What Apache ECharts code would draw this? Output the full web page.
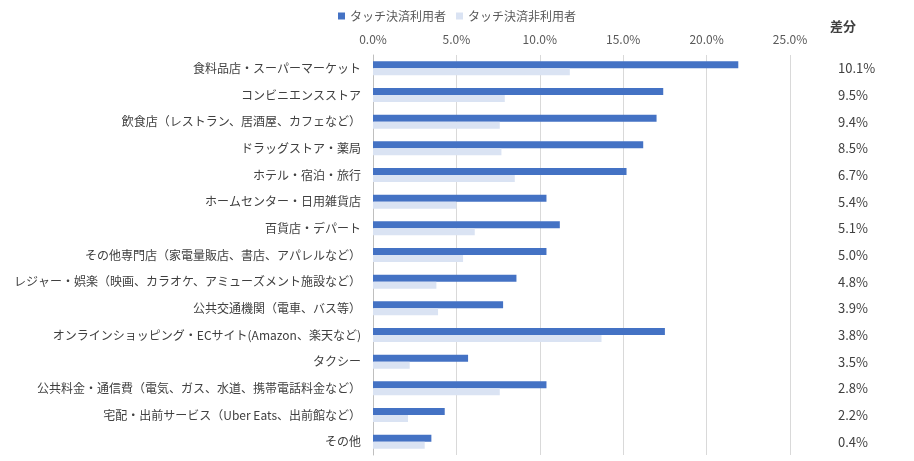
<!DOCTYPE html>
<html><head><meta charset="utf-8">
<script src="https://cdn.jsdelivr.net/npm/echarts@6/dist/echarts.min.js"></script>
<style>html,body{margin:0;padding:0;background:#fff}#c{width:914px;height:461px}</style>
</head><body><div id="c"></div>
<script>
const categories = ["食料品店・スーパーマーケット","コンビニエンスストア","飲食店（レストラン、居酒屋、カフェなど）","ドラッグストア・薬局","ホテル・宿泊・旅行","ホームセンター・日用雑貨店","百貨店・デパート","その他専門店（家電量販店、書店、アパレルなど）","レジャー・娯楽（映画、カラオケ、アミューズメント施設など）","公共交通機関（電車、バス等）","オンラインショッピング・ECサイト(Amazon、楽天など)","タクシー","公共料金・通信費（電気、ガス、水道、携帯電話料金など）","宅配・出前サービス（Uber Eats、出前館など）","その他"];
const users = [21.9,17.4,17.0,16.2,15.2,10.4,11.2,10.4,8.6,7.8,17.5,5.7,10.4,4.3,3.5];
const nonUsers = [11.8,7.9,7.6,7.7,8.5,5.0,6.1,5.4,3.8,3.9,13.7,2.2,7.6,2.1,3.1];
const diffs = ["10.1%","9.5%","9.4%","8.5%","6.7%","5.4%","5.1%","5.0%","4.8%","3.9%","3.8%","3.5%","2.8%","2.2%","0.4%"];
const font = "'Noto Sans CJK JP', sans-serif";
const chart = echarts.init(document.getElementById('c'));
chart.setOption({
  animation:false,
  textStyle:{fontFamily:font},
  legend:{top:5,left:'center',itemWidth:7,itemHeight:7,itemGap:10,icon:'rect',
    textStyle:{fontSize:12,color:'#595959',fontFamily:font},
    data:['タッチ決済利用者','タッチ決済非利用者']},
  grid:{left:373,right:124,top:55,bottom:6},
  xAxis:{type:'value',position:'top',min:0,max:25,interval:5,
    axisLabel:{formatter:v=>v.toFixed(1)+'%',color:'#595959',fontSize:12,fontFamily:font,margin:10},
    splitLine:{lineStyle:{color:'#d9d9d9'}},axisLine:{show:false},axisTick:{show:false}},
  yAxis:[{type:'category',inverse:true,data:categories,
    axisLabel:{color:'#404040',fontSize:12,fontFamily:font,margin:12},
    axisLine:{lineStyle:{color:'#bfbfbf'}},axisTick:{show:false}},
   {type:'category',inverse:true,data:diffs,position:'right',
    name:'差分',nameLocation:'start',nameGap:22,
    nameTextStyle:{fontWeight:'bold',fontSize:13,color:'#404040',fontFamily:font,padding:[0,0,0,106]},
    axisLabel:{color:'#404040',fontSize:13,fontFamily:font,margin:48,padding:[8,0,0,0]},
    axisLine:{show:false},axisTick:{show:false}}],
  series:[
    {name:'タッチ決済利用者',type:'bar',data:users,barWidth:7,barGap:'0%',itemStyle:{color:'#4472C4'}},
    {name:'タッチ決済非利用者',type:'bar',data:nonUsers,barWidth:7,itemStyle:{color:'#DAE3F3'}}
  ]
});
</script></body></html>
